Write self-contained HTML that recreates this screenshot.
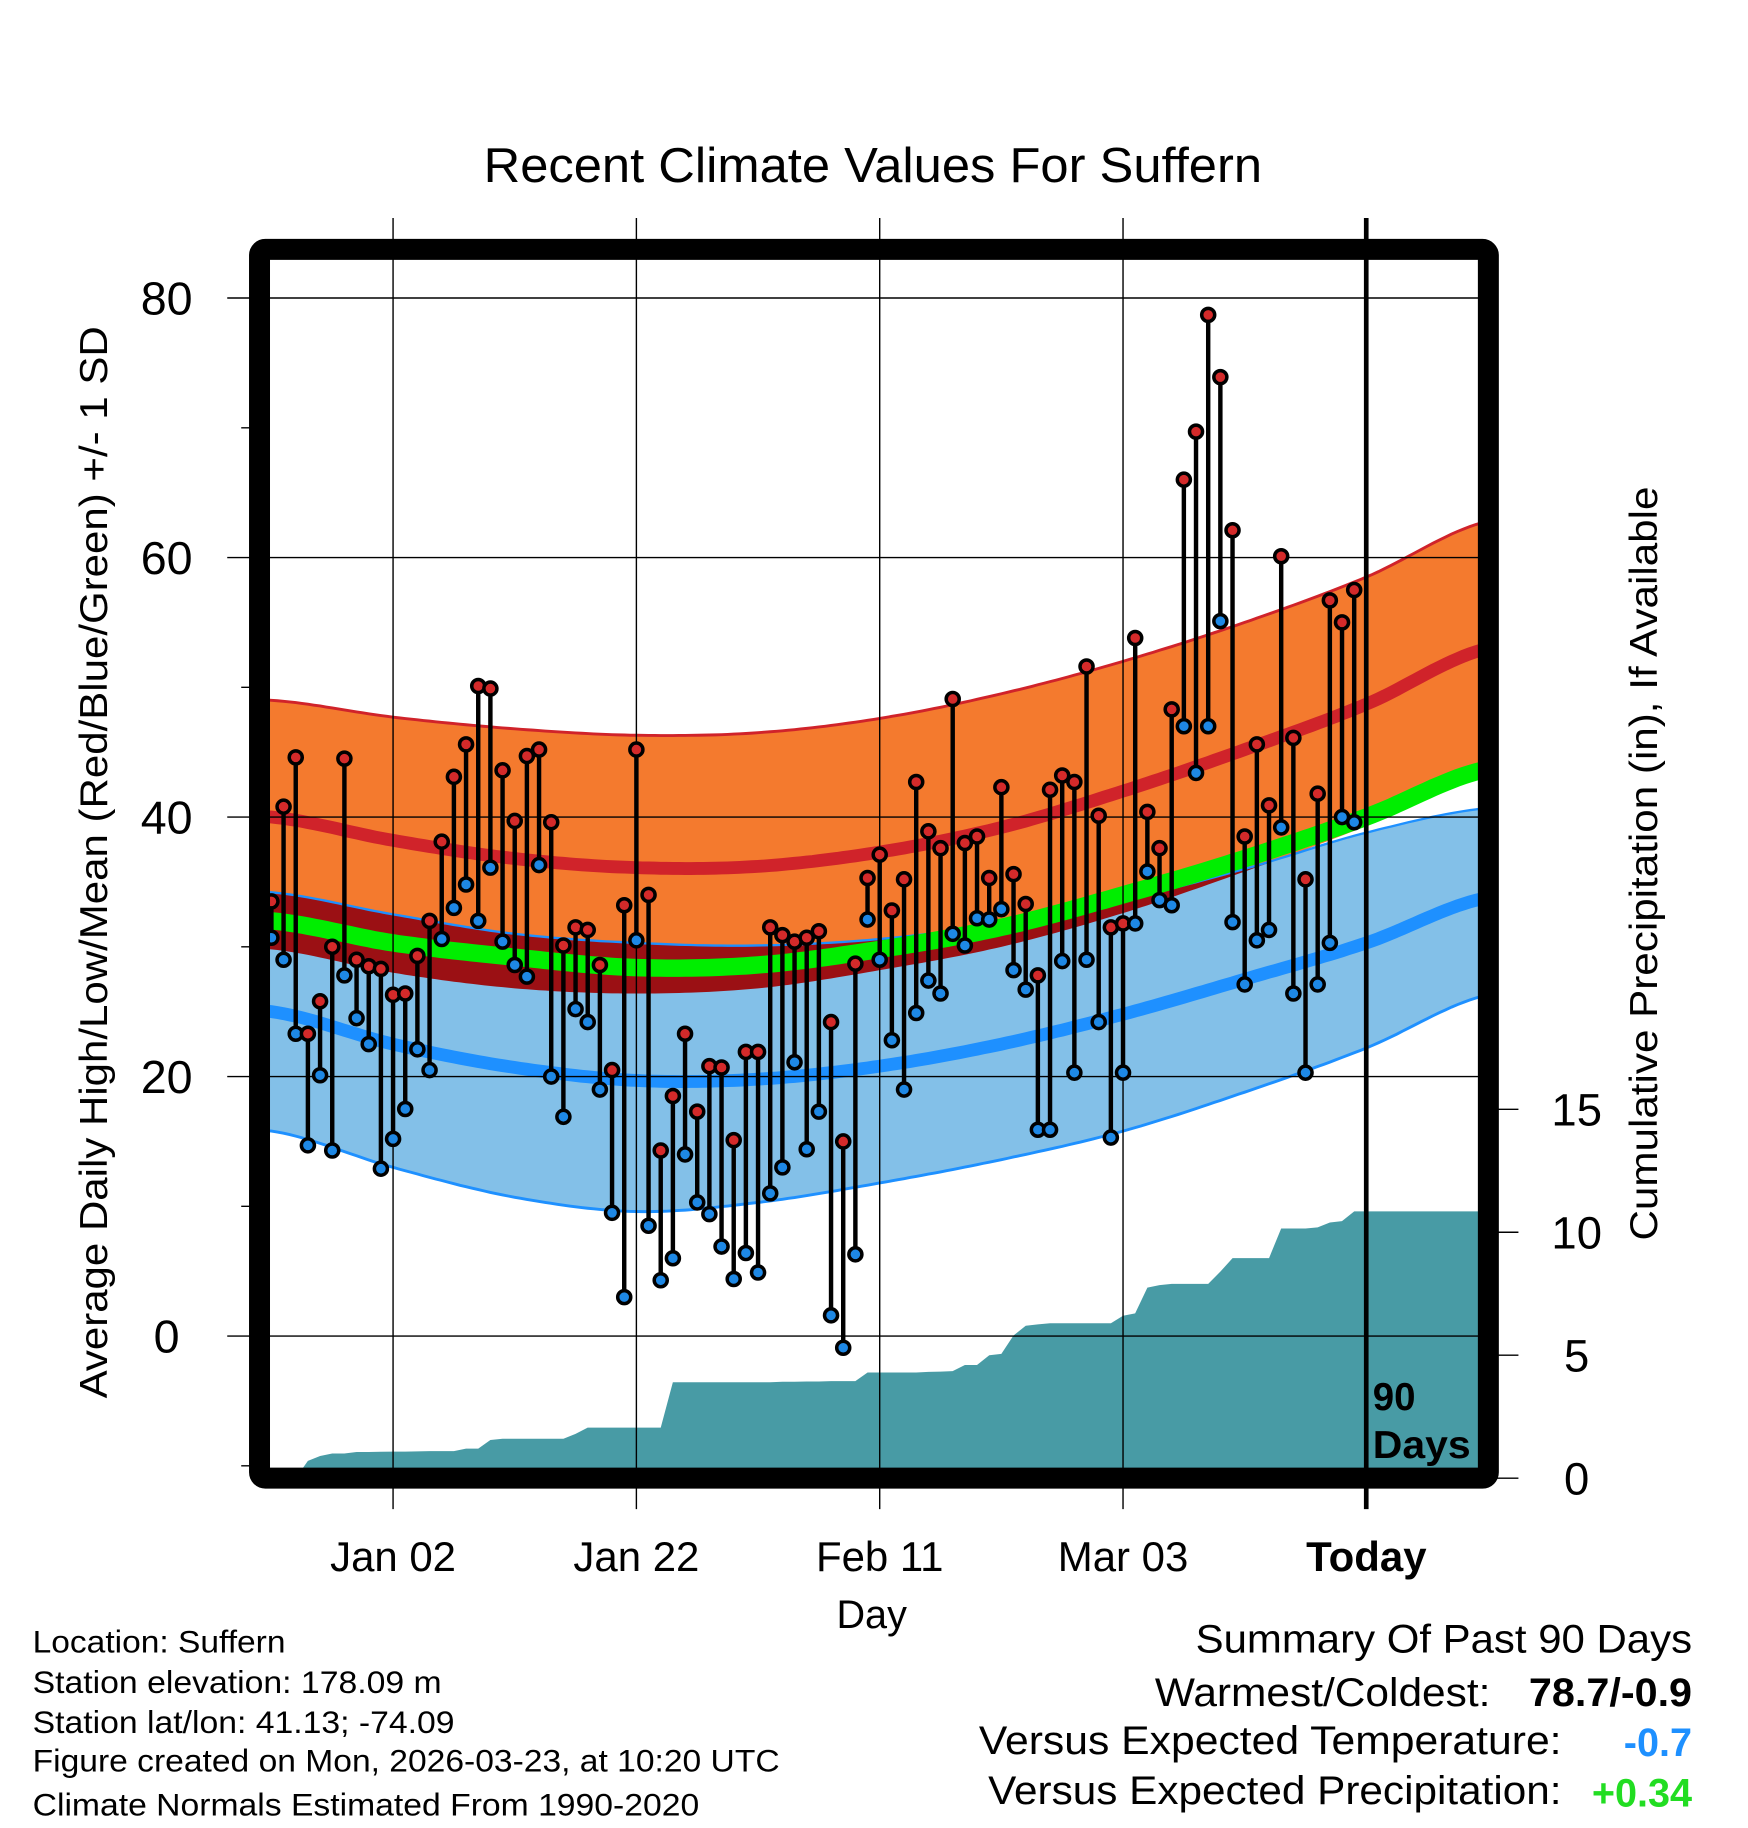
<!DOCTYPE html>
<html><head><meta charset="utf-8">
<style>
html,body{margin:0;padding:0;background:#fff;}
svg{display:block;font-family:"Liberation Sans",Arial,sans-serif;}
</style></head>
<body>
<svg id="chart" width="1748" height="1828" viewBox="0 0 1500 1568.6" xmlns="http://www.w3.org/2000/svg">
<defs><clipPath id="plotclip"><rect x="231.7" y="223" width="1036.6" height="1036.7"/></clipPath></defs>
<g id="grid"></g>
<g id="bands" clip-path="url(#plotclip)"></g>
<g id="precip" clip-path="url(#plotclip)"></g>
<g id="gridover"></g>
<g id="marks" clip-path="url(#plotclip)"></g>
<rect x="222.7" y="214" width="1054.5" height="1054.4" rx="5" fill="none" stroke="#000" stroke-width="18"/>
<line x1="1172.4" y1="187" x2="1172.4" y2="1295" stroke="#000" stroke-width="4"/>
<text x="1178" y="1210" font-size="33" font-weight="bold">90</text>
<text x="1178" y="1251" font-size="33" font-weight="bold" textLength="84" lengthAdjust="spacingAndGlyphs">Days</text>
<text x="749" y="156" font-size="42" text-anchor="middle" textLength="668" lengthAdjust="spacingAndGlyphs">Recent Climate Values For Suffern</text>
<text transform="translate(92,740) rotate(-90)" font-size="33" text-anchor="middle" textLength="920" lengthAdjust="spacingAndGlyphs">Average Daily High/Low/Mean (Red/Blue/Green) +/- 1 SD</text>
<text transform="translate(1422,741) rotate(-90)" font-size="33" text-anchor="middle" textLength="647" lengthAdjust="spacingAndGlyphs">Cumulative Precipitation (in), If Available</text>
<text x="748" y="1397" font-size="34" text-anchor="middle">Day</text>
<g id="ticks"></g>
<g font-size="27">
<text x="28" y="1418" textLength="217" lengthAdjust="spacingAndGlyphs">Location: Suffern</text>
<text x="28" y="1453" textLength="351" lengthAdjust="spacingAndGlyphs">Station elevation: 178.09 m</text>
<text x="28" y="1487" textLength="362" lengthAdjust="spacingAndGlyphs">Station lat/lon: 41.13; -74.09</text>
<text x="28" y="1520" textLength="641" lengthAdjust="spacingAndGlyphs">Figure created on Mon, 2026-03-23, at 10:20 UTC</text>
<text x="28" y="1558" textLength="572" lengthAdjust="spacingAndGlyphs">Climate Normals Estimated From 1990-2020</text>
</g>
<g font-size="34">
<text x="1452" y="1418" text-anchor="end" textLength="426" lengthAdjust="spacingAndGlyphs">Summary Of Past 90 Days</text>
<text x="1279" y="1464" text-anchor="end" textLength="288" lengthAdjust="spacingAndGlyphs">Warmest/Coldest:</text>
<text x="1452" y="1464" text-anchor="end" font-weight="bold" textLength="140" lengthAdjust="spacingAndGlyphs">78.7/-0.9</text>
<text x="1340" y="1505" text-anchor="end" textLength="500" lengthAdjust="spacingAndGlyphs">Versus Expected Temperature:</text>
<text x="1452" y="1507" text-anchor="end" font-weight="bold" fill="#1e90ff">-0.7</text>
<text x="1340" y="1548" text-anchor="end" textLength="492" lengthAdjust="spacingAndGlyphs">Versus Expected Precipitation:</text>
<text x="1452" y="1550" text-anchor="end" font-weight="bold" fill="#22dd22">+0.34</text>
</g>
</svg>
<script>
// ---- data ----
const highs = [33.5,40.8,44.6,23.3,25.8,30.0,44.5,29.0,28.5,28.3,26.3,26.4,29.3,32.0,38.1,43.1,45.6,50.1,49.9,43.6,39.7,44.7,45.2,39.6,30.1,31.5,31.3,28.6,20.5,33.2,45.2,34.0,14.3,18.5,23.3,17.3,20.8,20.7,15.1,21.9,21.9,31.5,30.9,30.4,30.7,31.2,24.2,15.0,28.7,35.3,37.1,32.8,35.2,42.7,38.9,37.6,49.1,38.0,38.5,35.3,42.3,35.6,33.3,27.8,42.1,43.2,42.7,51.6,40.1,31.5,31.8,53.8,40.4,37.6,48.3,66.0,69.7,78.7,73.9,62.1,38.5,45.6,40.9,60.1,46.1,35.2,41.8,56.7,55.0,57.5];
const lows = [30.7,29.0,23.3,14.7,20.1,14.3,27.8,24.5,22.5,12.9,15.2,17.5,22.1,20.5,30.6,33.0,34.8,32.0,36.1,30.4,28.6,27.7,36.3,20.0,16.9,25.2,24.2,19.0,9.5,3.0,30.5,8.5,4.3,6.0,14.0,10.3,9.4,6.9,4.4,6.4,4.9,11.0,13.0,21.1,14.4,17.3,1.6,-0.9,6.3,32.1,29.0,22.8,19.0,24.9,27.4,26.4,31.0,30.1,32.2,32.1,32.9,28.2,26.7,15.9,15.9,28.9,20.3,29.0,24.2,15.3,20.3,31.8,35.8,33.6,33.2,47.0,43.4,47.0,55.1,31.9,27.1,30.5,31.3,39.2,26.4,20.3,27.1,30.3,40.0,39.6];
const precipCum = [0,0,0,0.7,0.9,1.0,1.0,1.06,1.06,1.07,1.08,1.08,1.09,1.1,1.1,1.1,1.2,1.2,1.55,1.6,1.6,1.6,1.6,1.6,1.6,1.8,2.05,2.05,2.05,2.05,2.05,2.05,2.05,3.9,3.9,3.9,3.9,3.9,3.9,3.9,3.9,3.9,3.92,3.92,3.93,3.93,3.95,3.95,3.95,4.3,4.3,4.3,4.3,4.3,4.32,4.33,4.35,4.6,4.6,5.0,5.05,5.8,6.2,6.25,6.3,6.3,6.3,6.3,6.3,6.3,6.6,6.7,7.75,7.85,7.9,7.9,7.9,7.9,8.4,8.95,8.95,8.95,8.95,10.15,10.15,10.15,10.2,10.4,10.45,10.85];
const normDays = [-10,0,10,20,30,40,50,60,70,80,90];
const hiTop  = [49,47.7,46.8,46.3,46.5,47.6,49.5,52,55,58.5,62.8];
const hiMean = [40,38.2,36.8,36.1,36.2,37.3,39.2,42,45.2,48.7,53];
const hiBot  = [29.8,28,26.8,26.4,26.8,28.2,30,32.6,35.8,39.3,43.2];
const meanT  = [32,30.3,29.2,28.4,28.6,29.8,31.5,34,36.8,40,43.7];
const loTop  = [34.2,32.5,31,30.3,30.1,30.6,31.8,33.6,36,38.8,40.7];
const loMean = [25,22.5,20.7,19.7,19.8,20.8,22.5,24.8,27.5,30.3,33.8];
const loBot  = [15.8,13,10.7,9.6,10.3,11.8,13.6,15.8,18.8,22.2,26.3];
const tempTicks = [0,20,40,60,80];
const tempMinor = [-10,10,30,50,70];
const precipTicks = [0,5,10,15];
const xTickDays = [0,20,40,60,80];
const xTickLabels = ["Jan 02","Jan 22","Feb 11","Mar 03","Today"];
const firstDay = -10;

// ---- axes ----
const X0=231.7, X1=1268.3, Y0=223, Y1=1259.7;
const xs = d => 337.3 + 10.44*d;
const ys = t => 1146.5 - 11.135*t;
const yp = p => 1268.4 - 21.1*p;
const NS="http://www.w3.org/2000/svg";
function mk(tag, attrs, parent){const e=document.createElementNS(NS,tag);for(const k in attrs)e.setAttribute(k,attrs[k]);parent.appendChild(e);return e;}
const G=id=>document.getElementById(id);

function interp(arr,d){
  let i=Math.floor((d-normDays[0])/10); i=Math.max(0,Math.min(normDays.length-2,i));
  const t=(d-normDays[i])/10;
  const p0=arr[Math.max(0,i-1)],p1=arr[i],p2=arr[i+1],p3=arr[Math.min(arr.length-1,i+2)];
  return 0.5*((2*p1)+(-p0+p2)*t+(2*p0-5*p1+4*p2-p3)*t*t+(-p0+3*p1-3*p2+p3)*t*t*t);
}
const samp=[];for(let d=-11;d<=90;d+=0.5)samp.push(d);
const line = arr => samp.map(d=>xs(d).toFixed(1)+","+ys(interp(arr,d)).toFixed(1)).join(" ");
const lineF = f => samp.map(d=>xs(d).toFixed(1)+","+ys(f(d)).toFixed(1)).join(" ");
const band=(top,bot)=>line(top)+" "+samp.slice().reverse().map(d=>xs(d).toFixed(1)+","+ys(interp(bot,d)).toFixed(1)).join(" ");

const bands=G('bands');
let e;
e=mk('polygon',{points:band(hiTop,hiBot),fill:'#f47a2e'},bands);


e=mk('polygon',{points:band(loTop,loBot),fill:'#83c0e8'},bands);


const ovTop=lineF(d=>interp(loTop,d));
const ovBot=samp.slice().reverse().map(d=>xs(d).toFixed(1)+","+ys(Math.min(interp(hiBot,d),interp(loTop,d))).toFixed(1)).join(" ");
e=mk('polygon',{points:ovTop+" "+ovBot,fill:'#9b1014'},bands);


const lines=[[hiTop,'#d0232a',2.5,'high-plus-sd-line'],[hiMean,'#d0232a',11,'high-mean-line'],[loTop,'#1e90ff',2,'low-plus-sd-line'],[loBot,'#1e90ff',2.5,'low-minus-sd-line'],[loMean,'#1e90ff',11,'low-mean-line'],[meanT,'#00ee00',15,'mean-line']];
for(const [a,c,w,n] of lines){
  e=mk('polyline',{points:line(a),fill:'none',stroke:c,'stroke-width':w},bands);
  
  
}

const pr=G('precip');
let pts=[];
for(let i=0;i<precipCum.length;i++)pts.push(xs(firstDay+i).toFixed(1)+","+yp(precipCum[i]).toFixed(1));
pts.push(X1+","+yp(precipCum[precipCum.length-1]).toFixed(1));
pts.push(X1+","+Y1); pts.push(xs(firstDay)+","+Y1);
e=mk('polygon',{points:pts.join(" "),fill:'#489ba5'},pr);



const gr=G('gridover');
for(const t of tempTicks){
  e=mk('line',{x1:195,x2:X1,y1:ys(t),y2:ys(t),stroke:'#000','stroke-width':1.2},gr);
  
  
}
for(const d of xTickDays.slice(0,4)){
  e=mk('line',{x1:xs(d),x2:xs(d),y1:187,y2:1295,stroke:'#000','stroke-width':1.2},gr);
  
  
}
const tk=G('ticks');
for(const t of tempMinor){
  e=mk('line',{x1:207,x2:224,y1:ys(t),y2:ys(t),stroke:'#000','stroke-width':1.2},tk);
  
  
}
for(const t of tempTicks){
  e=mk('text',{x:143,y:ys(t)+14,'font-size':40,'text-anchor':'middle'},tk);
  e.textContent=t;
  
  
}
for(const p of precipTicks){
  e=mk('line',{x1:1276,x2:1303,y1:yp(p),y2:yp(p),stroke:'#000','stroke-width':1.2},tk);
  
  
  e=mk('text',{x:1353,y:yp(p)+14,'font-size':39,'text-anchor':'middle'},tk);
  e.textContent=p;
  
  
}
xTickDays.forEach((d,i)=>{
  e=mk('text',{x:xs(d),y:1348,'font-size':36,'text-anchor':'middle','font-weight':i==4?'bold':'normal'},tk);
  e.textContent=xTickLabels[i];
  
  
});

const mg=G('marks');
for(let i=0;i<highs.length;i++){
  const x=xs(firstDay+i);
  e=mk('line',{x1:x,x2:x,y1:ys(highs[i]),y2:ys(lows[i]),stroke:'#000','stroke-width':3.8},mg);
  
  
}
for(let i=0;i<highs.length;i++){
  const x=xs(firstDay+i);
  e=mk('circle',{cx:x,cy:ys(lows[i]),r:5.6,fill:'#1e88e5',stroke:'#000','stroke-width':3},mg);
  
  
  e=mk('circle',{cx:x,cy:ys(highs[i]),r:5.6,fill:'#d42a2a',stroke:'#000','stroke-width':3},mg);
  
  
}
</script>
</body></html>
